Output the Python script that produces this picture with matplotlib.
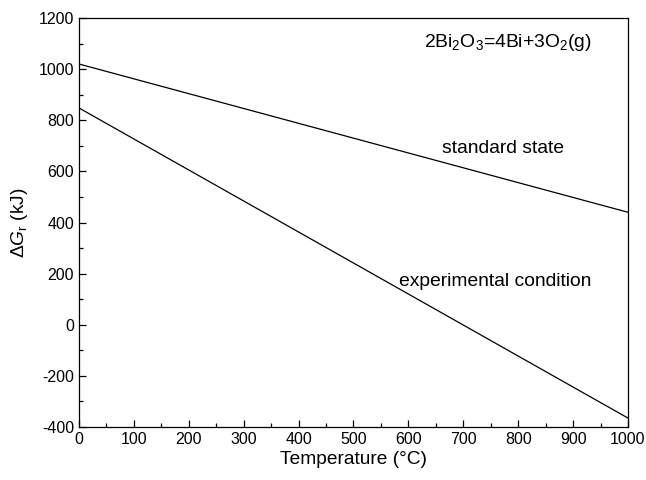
import matplotlib
matplotlib.use("Agg")
import matplotlib.pyplot as plt
from matplotlib.ticker import MultipleLocator

plt.rcParams["font.family"] = ["Liberation Sans", "DejaVu Sans"]
plt.rcParams["mathtext.fontset"] = "custom"
plt.rcParams["mathtext.rm"] = "Liberation Sans"
plt.rcParams["mathtext.it"] = "Liberation Sans:italic"
plt.rcParams["mathtext.sf"] = "Liberation Sans"
plt.rcParams["axes.unicode_minus"] = False

# 数据
temp = [0, 1000]
dg_standard = [1020, 440]
dg_experimental = [848, -365]

fig = plt.figure(figsize=(6.46, 4.8), dpi=100)
ax = fig.add_axes([0.1223, 0.1104, 0.8498, 0.8521])

ax.plot(temp, dg_standard, color="black", linewidth=0.9)
ax.plot(temp, dg_experimental, color="black", linewidth=0.9)

ax.set_xlim(0, 1000)
ax.set_ylim(-400, 1200)
ax.xaxis.set_major_locator(MultipleLocator(100))
ax.xaxis.set_minor_locator(MultipleLocator(50))
ax.yaxis.set_major_locator(MultipleLocator(200))
ax.yaxis.set_minor_locator(MultipleLocator(100))
ax.tick_params(which="both", direction="in", top=False, right=False, labelsize=11.5)
ax.tick_params(which="major", length=5, width=0.9)
ax.tick_params(which="minor", length=3, width=0.9)
for s in ax.spines.values():
    s.set_linewidth(0.9)

ax.set_xlabel("Temperature (\u00b0C)", fontsize=13.8, labelpad=3)
ax.set_ylabel(r"$\Delta G_{\mathrm{r}}$ (kJ)", fontsize=13.8, labelpad=6)

ax.text(772, 688, "standard state", fontsize=13.9, ha="center", va="center")
ax.text(758, 171, "experimental condition", fontsize=13.9, ha="center", va="center")
ax.text(781, 1106, r"2Bi$_2$O$_3$=4Bi+3O$_2$(g)", fontsize=13.9, ha="center", va="center")

fig.savefig("out.png", dpi=100)
plt.close(fig)
